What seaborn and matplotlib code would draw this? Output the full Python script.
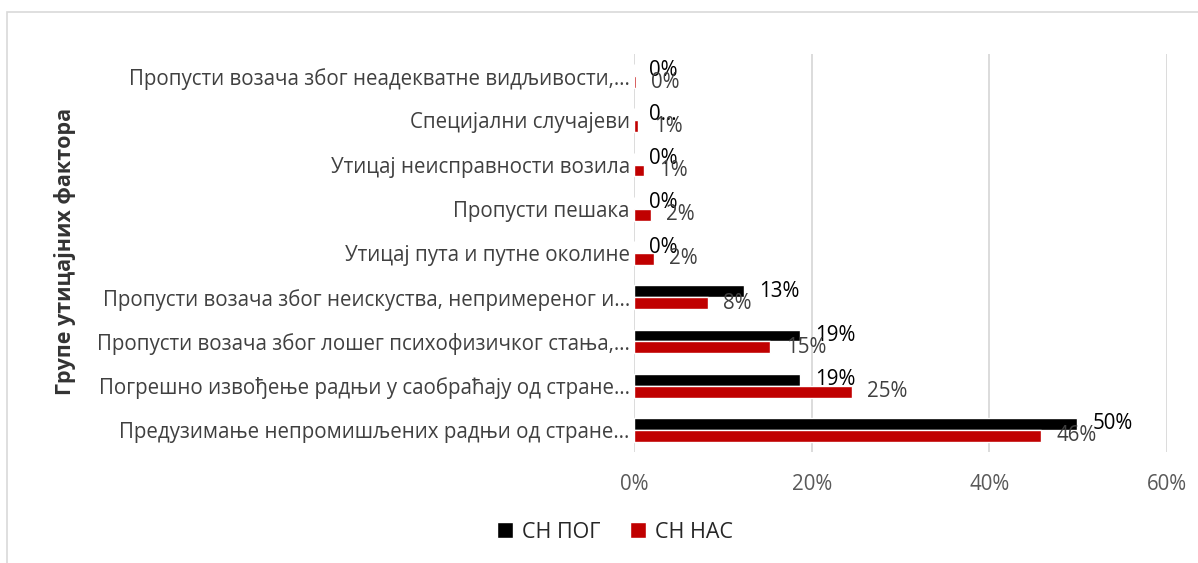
import numpy as np
import pandas as pd
import seaborn as sns
import matplotlib.pyplot as plt
from matplotlib.patches import Rectangle, Patch

# categories, listed top to bottom as drawn
categories = [
    'Пропусти возача због неадекватне видљивости,…',
    'Специјални случајеви',
    'Утицај неисправности возила',
    'Пропусти пешака',
    'Утицај пута и путне околине',
    'Пропусти возача због неискуства, непримереног и…',
    'Пропусти возача због лошег психофизичког стања,…',
    'Погрешно извођење радњи у саобраћају од стране…',
    'Предузимање непромишљених радњи од стране…',
]
sn_pog = [0.0, 0.0, 0.0, 0.0, 0.0, 12.4, 18.7, 18.7, 49.9]
sn_nas = [0.2, 0.5, 1.1, 1.9, 2.2, 8.3, 15.35, 24.5, 45.8]
pog_labels = ['0%', '0…', '0%', '0%', '0%', '13%', '19%', '19%', '50%']
nas_labels = ['0%', '1%', '1%', '2%', '2%', '8%', '15%', '25%', '46%']
x_ticks = [0, 20, 40, 60]
series = ['СН ПОГ', 'СН НАС']
colors = {'СН ПОГ': '#000000', 'СН НАС': '#C00000'}

df = pd.DataFrame({
    'factor': categories * 2,
    'value': sn_pog + sn_nas,
    'series': [series[0]] * len(categories) + [series[1]] * len(categories),
})

sns.set_theme(style='white')
plt.rcParams['font.family'] = ['Open Sans', 'DejaVu Sans']

fig = plt.figure(figsize=(11.98, 5.63), dpi=100)
ax = fig.add_axes([634 / 1198, 1 - 452 / 563, 533 / 1198, 398 / 563])

sns.barplot(data=df, x='value', y='factor', hue='series', order=categories,
            hue_order=series, palette=colors, width=0.54, orient='h',
            saturation=1, legend=False, ax=ax)

ax.set_xlim(0, 60)
ax.set_ylim(8.5, -0.5)
ax.set_xticks(x_ticks)
ax.set_xticklabels([f'{t}%' for t in x_ticks])
ax.xaxis.grid(True, color='#D9D9D9', linewidth=1.3)
ax.yaxis.grid(False)
for s in ax.spines.values():
    s.set_visible(False)
ax.tick_params(axis='x', length=0, pad=16, labelsize=14.8, labelcolor='#595959')
ax.tick_params(axis='y', length=0, pad=3, labelsize=14.8, labelcolor='#404040')
ax.set_xlabel('')
ax.set_ylabel('')

# data labels
for cont, labs, col in zip(ax.containers, [pog_labels, nas_labels], ['#000000', '#404040']):
    ax.bar_label(cont, labels=labs, padding=11, color=col, fontsize=14.8)

fig.text(65 / 1198, 1 - 251 / 563, 'Групе утицајних фактора', rotation=90,
         ha='center', va='center', fontsize=15.5, fontweight='bold', color='#333333')

handles = [Patch(facecolor=colors[s], label=s) for s in series]
fig.legend(handles=handles, loc='center', bbox_to_anchor=(615 / 1198, 1 - 532 / 563),
           ncol=2, frameon=False, fontsize=15.5, handlelength=0.75, handleheight=0.75,
           handletextpad=0.4, columnspacing=1.4)

fig.patches.append(Rectangle((7 / 1198, -0.01), 1.1, 1 - 12 / 563 + 0.01,
                             transform=fig.transFigure, fill=False,
                             edgecolor='#D9D9D9', linewidth=1.2))

fig.savefig('out.png', dpi=100)
